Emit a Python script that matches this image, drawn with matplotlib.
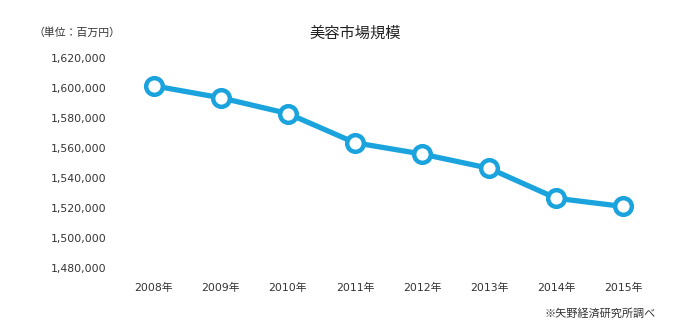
import matplotlib
matplotlib.use("Agg")
import matplotlib.pyplot as plt

plt.rcParams['font.family'] = ['DejaVu Sans', 'Noto Sans CJK JP']

years = ['2008年', '2009年', '2010年', '2011年', '2012年', '2013年', '2014年', '2015年']
market_size = [1601500, 1593500, 1583000, 1563500, 1556000, 1546500, 1526500, 1521000]
y_ticks = [1480000, 1500000, 1520000, 1540000, 1560000, 1580000, 1600000, 1620000]

color = '#1aa3dd'

fig = plt.figure(figsize=(7, 3.32), dpi=100)
ax = fig.add_axes([0.172, 0.193, 0.766, 0.632])

x = list(range(len(years)))
ax.plot(x, market_size, color=color, lw=3.8, marker='o', ms=12,
        mfc='white', mec=color, mew=3.2, zorder=3)

ax.set_xlim(-0.5, len(years) - 0.5)
ax.set_ylim(1480000, 1620000)
ax.set_xticks(x)
ax.set_xticklabels(years)
ax.set_yticks(y_ticks)
ax.set_yticklabels([f'{v:,}' for v in y_ticks])
ax.tick_params(length=0, labelsize=7.8, colors='#333333')
ax.tick_params(axis='y', pad=10)
ax.tick_params(axis='x', pad=11)
for s in ax.spines.values():
    s.set_visible(False)

fig.text(0.507, 0.90, '美容市場規模', ha='center', va='center', fontsize=11,
         family=['Noto Sans CJK JP'], color='#222222')
fig.text(0.11, 0.903, '（単位：百万円）', ha='center', va='center', fontsize=7.8,
         family=['Noto Sans CJK JP'], color='#333333')
fig.text(0.937, 0.057, '※矢野経済研究所調べ', ha='right', va='center', fontsize=8,
         family=['Noto Sans CJK JP'], color='#333333')

fig.savefig('out.png', dpi=100)
